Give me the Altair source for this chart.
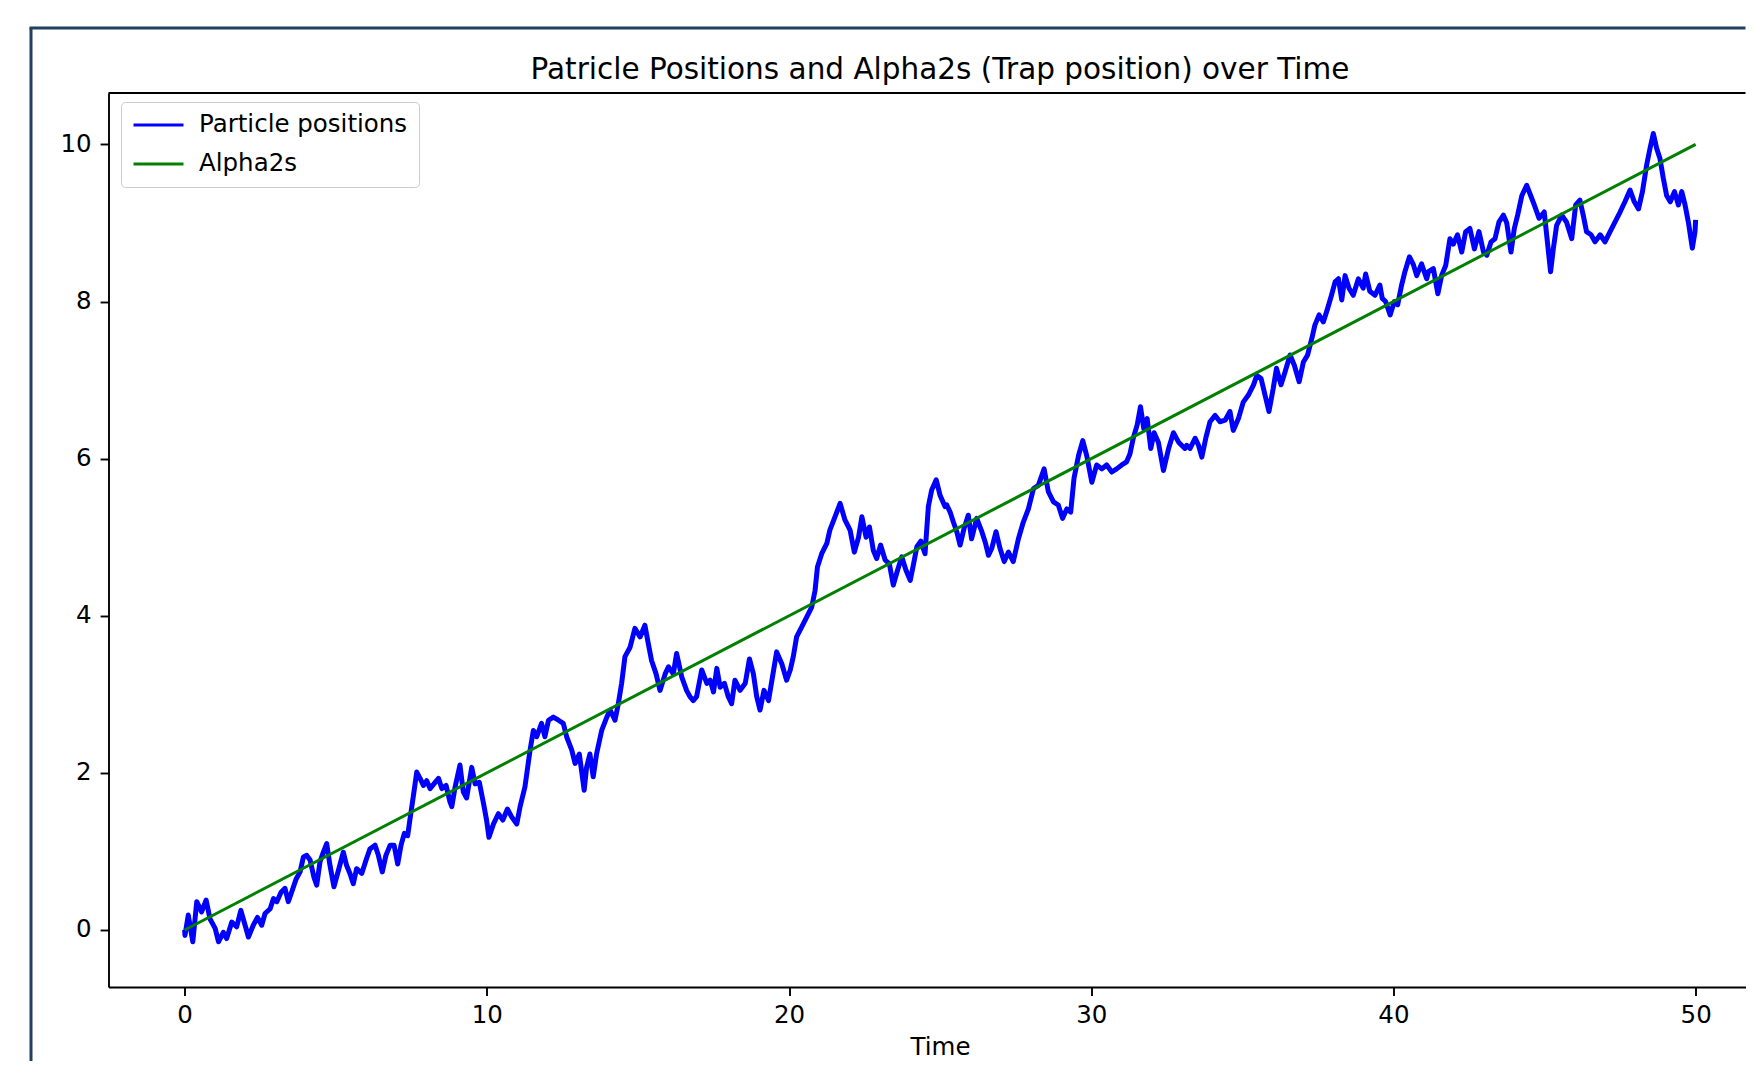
import altair as alt
import pandas as pd

# ---------------- data ----------------
TIME = [
    0.00, 0.01, 0.12, 0.27, 0.40, 0.56, 0.71, 0.84, 1.01, 1.12, 1.28, 1.39, 1.56, 1.72, 1.86,
    2.00, 2.11, 2.27, 2.41, 2.55, 2.66, 2.83, 2.94, 3.05, 3.19, 3.32, 3.43, 3.54, 3.69, 3.82,
    3.93, 4.04, 4.15, 4.28, 4.37, 4.48, 4.59, 4.70, 4.81, 4.94, 5.09, 5.25, 5.36, 5.47, 5.58,
    5.69, 5.86, 6.02, 6.13, 6.30, 6.41, 6.54, 6.66, 6.80, 6.93, 7.05, 7.16, 7.27, 7.38, 7.46,
    7.57, 7.68, 7.79, 7.90, 8.01, 8.12, 8.29, 8.40, 8.51, 8.65, 8.78,
    8.84, 8.95, 9.11, 9.22, 9.33, 9.50, 9.61, 9.75, 9.89, 9.99, 10.07, 10.22, 10.38, 10.53,
    10.68, 10.82, 10.99, 11.10, 11.26, 11.43, 11.54, 11.65, 11.81, 11.92, 12.04, 12.20, 12.37,
    12.53, 12.64, 12.81, 12.92, 13.06, 13.22, 13.30, 13.41, 13.52, 13.63, 13.80, 13.97, 14.08,
    14.24, 14.35, 14.46, 14.57, 14.74, 14.90, 15.07, 15.23, 15.34, 15.45, 15.60, 15.73, 15.90,
    16.01, 16.17, 16.28, 16.45, 16.61, 16.72,
    16.83, 16.94, 17.11, 17.28, 17.39, 17.50, 17.61, 17.72, 17.86, 17.99, 18.10, 18.21, 18.38,
    18.55, 18.69, 18.82, 18.93, 19.04, 19.17, 19.32, 19.49, 19.59, 19.76, 19.92, 20.04, 20.14,
    20.25, 20.42, 20.58, 20.75, 20.86, 20.94, 21.08, 21.25, 21.35, 21.52, 21.69, 21.85, 22.02,
    22.16, 22.30, 22.41, 22.55, 22.66, 22.79, 22.90, 23.03, 23.18, 23.32, 23.45, 23.59, 23.73,
    23.87, 24.01, 24.12, 24.23, 24.36, 24.50, 24.61, 24.72, 24.87, 25.00, 25.16,
    25.22, 25.33, 25.44, 25.55, 25.66, 25.79, 25.93, 26.04, 26.21, 26.38, 26.49, 26.60, 26.71,
    26.85, 26.98, 27.12, 27.26, 27.42, 27.59, 27.75, 27.92, 28.09, 28.25, 28.44, 28.58, 28.75,
    28.91, 29.05, 29.19, 29.32, 29.43, 29.58, 29.72, 29.85, 30.02, 30.18, 30.35, 30.51, 30.68,
    30.84, 31.01, 31.17, 31.28, 31.39, 31.52, 31.63, 31.74, 31.85, 31.97, 32.08, 32.22, 32.39,
    32.56, 32.72, 32.89, 33.10,
    33.16, 33.27, 33.44, 33.55, 33.66, 33.79, 33.93, 34.10, 34.26, 34.43, 34.59, 34.70, 34.87,
    35.03, 35.20, 35.37, 35.48, 35.62, 35.75, 35.88, 36.02, 36.13, 36.28, 36.41, 36.58, 36.72,
    36.88, 37.02, 37.16, 37.30, 37.40, 37.54, 37.68, 37.82, 37.95, 38.07, 38.18, 38.29, 38.40,
    38.53, 38.67, 38.84, 39.00, 39.08, 39.22, 39.39, 39.55, 39.63, 39.74, 39.89, 40.03, 40.14,
    40.27, 40.38, 40.53, 40.66, 40.77, 40.93, 41.10,
    41.16, 41.32, 41.47, 41.60, 41.73, 41.87, 41.98, 42.12, 42.26, 42.39, 42.53, 42.68, 42.83,
    42.98, 43.09, 43.23, 43.36, 43.49, 43.64, 43.75, 43.89, 44.00, 44.11, 44.25, 44.41, 44.54,
    44.66, 44.82, 44.99, 45.13, 45.20, 45.29, 45.40, 45.57, 45.73, 45.90, 46.03, 46.17, 46.28,
    46.39, 46.54, 46.67, 46.84, 47.00, 47.17, 47.33, 47.50, 47.66, 47.83, 47.97, 48.11, 48.24,
    48.38, 48.49, 48.60, 48.71, 48.82, 48.93, 49.04, 49.16, 49.30, 49.43, 49.54, 49.65, 49.76,
    49.89, 49.98, 50.00,
]
POSITION = [
    0.00, -0.07, 0.19, -0.15, 0.36, 0.23, 0.38, 0.14, 0.02, -0.15, -0.03, -0.11, 0.10, 0.04, 0.25,
    0.06, -0.09, 0.06, 0.16, 0.06, 0.21, 0.27, 0.40, 0.36, 0.48, 0.53, 0.36, 0.48, 0.65, 0.74,
    0.93, 0.95, 0.89, 0.67, 0.57, 0.87, 0.99, 1.10, 0.82, 0.55, 0.76, 0.99, 0.82, 0.72, 0.59,
    0.78, 0.72, 0.91, 1.03, 1.08, 0.95, 0.74, 0.95, 1.08, 1.08, 0.84, 1.08, 1.23, 1.20, 1.42,
    1.71, 2.01, 1.93, 1.84, 1.90, 1.80, 1.88, 1.93, 1.80, 1.84, 1.63,
    1.57, 1.82, 2.10, 1.76, 1.68, 2.07, 1.86, 1.88, 1.61, 1.40, 1.18, 1.35, 1.48, 1.40,
    1.54, 1.44, 1.35, 1.57, 1.82, 2.29, 2.54, 2.46, 2.63, 2.46, 2.67, 2.71, 2.67,
    2.63, 2.46, 2.29, 2.12, 2.24, 1.78, 2.07, 2.24, 1.95, 2.24, 2.54, 2.71, 2.80,
    2.67, 2.88, 3.14, 3.48, 3.60, 3.84, 3.73, 3.88, 3.65, 3.43, 3.26, 3.05, 3.26,
    3.35, 3.26, 3.52, 3.22, 3.05, 2.97,
    2.92, 2.97, 3.31, 3.14, 3.18, 3.03, 3.33, 3.09, 3.14, 2.97, 2.88, 3.18, 3.05,
    3.14, 3.45, 3.26, 2.97, 2.80, 3.05, 2.92, 3.31, 3.54, 3.39, 3.18, 3.31, 3.48,
    3.73, 3.86, 3.98, 4.11, 4.32, 4.62, 4.79, 4.92, 5.09, 5.26, 5.43, 5.22, 5.09,
    4.81, 5.00, 5.26, 5.00, 5.13, 4.83, 4.73, 4.90, 4.71, 4.66, 4.39, 4.58, 4.75,
    4.58, 4.45, 4.66, 4.88, 4.95, 4.79, 5.39, 5.60, 5.73, 5.53, 5.39,
    5.41, 5.32, 5.19, 5.07, 4.90, 5.11, 5.28, 4.98, 5.24, 5.07, 4.94, 4.77, 4.86,
    5.07, 4.86, 4.69, 4.81, 4.69, 4.98, 5.19, 5.36, 5.62, 5.66, 5.87, 5.58, 5.45,
    5.41, 5.24, 5.36, 5.32, 5.75, 6.04, 6.23, 6.04, 5.70, 5.92, 5.87, 5.92, 5.83,
    5.87, 5.92, 5.96, 6.06, 6.26, 6.43, 6.66, 6.38, 6.51, 6.13, 6.33, 6.21, 5.85,
    6.13, 6.33, 6.21, 6.13,
    6.17, 6.13, 6.26, 6.17, 6.02, 6.26, 6.47, 6.55, 6.47, 6.49, 6.60, 6.36, 6.51,
    6.72, 6.81, 6.94, 7.06, 7.02, 6.81, 6.60, 6.89, 7.15, 6.94, 7.10, 7.32, 7.19,
    6.98, 7.23, 7.32, 7.53, 7.70, 7.83, 7.74, 7.91, 8.08, 8.25, 8.29, 8.02, 8.33,
    8.17, 8.08, 8.29, 8.17, 8.35, 8.13, 8.08, 8.21, 8.04, 8.00, 7.83, 8.00, 7.96,
    8.21, 8.38, 8.57, 8.47, 8.33, 8.48, 8.29,
    8.38, 8.42, 8.10, 8.34, 8.46, 8.80, 8.73, 8.85, 8.63, 8.89, 8.93, 8.67, 8.89,
    8.63, 8.59, 8.76, 8.80, 9.01, 9.10, 9.00, 8.63, 8.93, 9.10, 9.35, 9.48, 9.35,
    9.23, 9.06, 9.14, 8.63, 8.38, 8.67, 8.97, 9.10, 9.01, 8.80, 9.23, 9.29, 9.10,
    8.89, 8.85, 8.76, 8.85, 8.76, 8.89, 9.01, 9.14, 9.27, 9.42, 9.27, 9.18, 9.40,
    9.74, 9.95, 10.14, 9.95, 9.82, 9.57, 9.35, 9.27, 9.40, 9.23, 9.40, 9.23, 9.01,
    8.68, 8.89, 9.04,
]
ALPHA_TIME = [0.0, 50.0]
ALPHA = [0.0, 10.0]
SERIES = ["Particle positions", "Alpha2s"]
COLORS = ["#0000ff", "#008000"]
X_TICKS = [0, 10, 20, 30, 40, 50]
Y_TICKS = [0, 2, 4, 6, 8, 10]
TITLE = "Patricle Positions and Alpha2s (Trap position) over Time"
X_TITLE = "Time"

# ---------------- layout / style ----------------
W = 1637
H = 894
FONT = "DejaVu Sans"
FS = 24.5
FRAME = "#22405f"

particles = pd.DataFrame({"t": TIME, "v": POSITION, "series": SERIES[0]})
alpha = pd.DataFrame({"t": ALPHA_TIME, "v": ALPHA, "series": SERIES[1]})
one = pd.DataFrame({"k": [0]})

x_enc = alt.X(
    "t:Q",
    scale=alt.Scale(domain=[-2.52, 51.65], nice=False, zero=False),
    axis=alt.Axis(values=X_TICKS, format="d", title=X_TITLE, titleX=831.5,
                  labelPadding=8, titlePadding=9, labelFlush=False),
)
y_enc = alt.Y(
    "v:Q",
    scale=alt.Scale(domain=[-0.726, 10.655], nice=False, zero=False),
    axis=alt.Axis(values=Y_TICKS, format="d", title=None, labelPadding=9, labelFlush=False),
)
color_enc = alt.Color(
    "series:N",
    scale=alt.Scale(domain=SERIES, range=COLORS),
    legend=alt.Legend(
        title=None, orient="none", legendX=12.5, legendY=9,
        symbolType="stroke", symbolSize=2500, symbolStrokeWidth=3,
        labelFont=FONT, labelFontSize=FS, labelColor="#000000", labelLimit=500,
        labelOffset=14, padding=11, rowPadding=14, clipHeight=24,
        strokeColor="#cccccc", cornerRadius=4, fillColor="rgba(255,255,255,0.8)",
    ),
)

blue = alt.Chart(particles).mark_line(strokeWidth=5, strokeJoin="round").encode(
    x=x_enc, y=y_enc, color=color_enc
)
green = alt.Chart(alpha).mark_line(strokeWidth=3).encode(x=x_enc, y=y_enc, color=color_enc)

frame_left = alt.Chart(one).mark_rule(color=FRAME, strokeWidth=3).encode(
    x=alt.value(-77.5), y=alt.value(-65), y2=alt.value(990)
)
frame_top = alt.Chart(one).mark_rule(color=FRAME, strokeWidth=3).encode(
    x=alt.value(-79), x2=alt.value(W), y=alt.value(-65)
)
plot_top = alt.Chart(one).mark_rule(color="#000000", strokeWidth=1.9).encode(
    x=alt.value(0), x2=alt.value(W), y=alt.value(0)
)

chart = (
    alt.layer(frame_left, frame_top, blue, green, plot_top)
    .properties(
        width=W,
        height=H,
        autosize=alt.AutoSizeParams(type="none"),
        padding={"left": 100.5, "top": 85, "right": 0, "bottom": 74},
        title=alt.TitleParams(
            TITLE, font=FONT, fontSize=29.5, fontWeight="normal", color="#000000",
            anchor="middle", frame="group", dx=13, offset=-82, baseline="alphabetic",
        ),
        background="#ffffff",
    )
    .configure_view(strokeWidth=0)
    .configure_axis(
        domainColor="#000000", domainWidth=1.9, tickColor="#000000", tickWidth=1.9,
        tickSize=8.4, labelFont=FONT, labelFontSize=FS, labelColor="#000000",
        grid=False, titleFont=FONT, titleFontSize=FS, titleFontWeight="normal",
        titleColor="#000000",
    )
)

chart.save("out.html", embed_options={"renderer": "svg", "actions": False})
